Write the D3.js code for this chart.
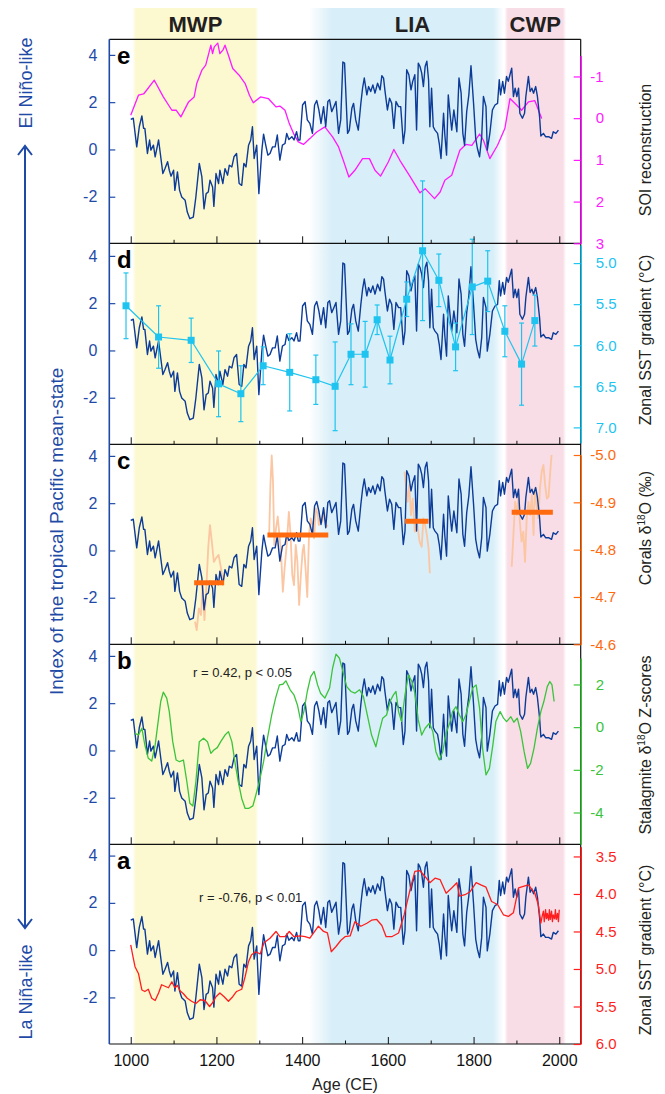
<!DOCTYPE html>
<meta charset="utf-8">
<style>
body { margin: 0; background: #fff; }
</style>
<svg width=665 height=1094></svg>
<script src="https://d3js.org/d3.v7.min.js"></script>
<script>

// ---- data ----
const bandNames = ["MWP", "LIA", "CWP"];
const bandStart = [1012, 1470, 1880];
const bandEnd = [1290, 1845, 2008];
const bandFadeIn = [8, 55, 8];
const bandFadeOut = [8, 25, 8];

// index of the tropical Pacific mean-state (same curve in every panel)
const indexYears = [1000,1006,1014,1020,1026,1030,1033,1039,1044,1047,1053,1057,1065,1070,1075,1080,1086,1090,1094,1100,
  1103,1109,1114,1119,1127,1132,1138,1146,1152,1160,1166,1171,1176,1181,1185,1191,1194,1199,1205,1208,
  1215,1220,1226,1230,1236,1241,1247,1253,1259,1264,1269,1275,1280,1284,1288,1294,1299,1306,1310,1315,
  1320,1325,1331,1337,1342,1348,1354,1360,1364,1369,1376,1381,1387,1391,1395,1401,1407,1412,1418,1424,
  1429,1434,1439,1444,1450,1455,1460,1464,1469,1474,1479,1485,1490,1495,1499,1506,1510,1516,1520,1525,
  1531,1537,1541,1545,1551,1555,1560,1565,1570,1576,1582,1586,1590,1593,1599,1604,1609,1614,1619,1625,
  1630,1636,1640,1644,1649,1654,1658,1663,1667,1671,1675,1679,1683,1687,1691,1695,1698,1702,1706,1710,
  1716,1720,1724,1730,1733,1737,1741,1745,1749,1754,1761,1766,1771,1775,1779,1784,1789,1794,1800,1805,
  1809,1814,1819,1823,1829,1832,1838,1844,1850,1856,1860,1863,1868,1872,1877,1881,1885,1889,1893,1897,
  1901,1905,1908,1914,1919,1922,1928,1932,1936,1940,1945,1949,1954,1957,1963,1968,1975,1982,1986,1992,1998];
const indexValues = [1.27,1.32,0.11,0.96,1.42,0.89,0.89,-0.17,0.40,-0.03,0.18,-0.31,0.40,-0.31,-1.02,-0.81,-0.52,-0.88,-1.13,-0.88,
  -1.73,-0.95,-1.73,-2.01,-2.15,-2.65,-2.93,-2.86,-2.01,-0.59,-1.16,-2.51,-1.87,-1.80,-1.30,-1.59,-2.41,-1.02,-1.44,-0.88,
  -1.44,-0.81,-1.09,-0.67,-0.74,-0.31,-0.17,-1.44,-1.52,-0.59,-0.74,0.18,0.40,0.96,-0.38,0.18,-1.87,-0.03,0.65,0.18,
  -0.24,-0.17,0.11,0.11,0.61,-0.45,0.18,0.25,0.68,0.42,0.54,0.40,0.75,0.40,0.40,1.88,2.03,1.25,1.10,0.68,
  1.88,2.07,1.67,1.10,1.81,0.96,2.03,2.10,1.60,1.81,2.03,0.68,1.25,3.70,3.65,0.68,0.82,1.74,1.95,1.25,
  0.82,1.95,2.59,3.02,2.31,2.66,2.45,2.73,2.38,2.80,2.52,3.12,3.02,2.52,1.67,2.17,1.95,0.89,2.03,1.81,
  1.81,0.25,0.82,3.37,3.16,2.52,2.88,3.16,0.82,3.65,3.51,3.23,2.66,3.51,3.73,2.95,0.96,2.59,0.96,0.82,
  0.68,0.25,-0.38,1.53,0.61,-0.24,2.31,1.53,0.82,1.67,0.75,3.02,2.38,0.68,0.18,1.60,2.31,3.54,1.95,0.47,
  0.04,-0.31,0.54,2.24,1.81,-0.03,0.68,1.67,1.88,1.95,2.95,2.31,2.88,2.38,3.09,2.88,3.16,3.44,2.24,2.59,
  2.24,2.59,1.53,1.32,1.53,2.24,3.09,2.45,2.59,2.38,2.66,2.24,1.39,0.57,0.68,0.54,0.54,0.47,0.75,0.68,0.82];

// (e) SOI reconstruction
const soiYears = [1000,1018,1030,1037,1055,1076,1096,1106,1117,1135,1148,1154,1166,1175,1183,1187,1191,1195,1203,
  1208,1215,1220,1228,1238,1253,1267,1277,1286,1303,1321,1339,1348,1360,1370,1380,1391,1403,1418,1434,
  1453,1471,1485,1496,1509,1523,1541,1557,1570,1583,1601,1614,1628,1652,1675,1687,1709,1722,1733,1749,
  1768,1782,1796,1814,1823,1838,1856,1873,1885,1901,1912,1928,1943,1959];
const soiValues = [-0.07,-0.55,-0.58,-0.67,-0.91,-0.51,-0.19,-0.19,-0.03,-0.39,-0.51,-0.83,-1.15,-1.27,-1.59,-1.75,-1.55,-1.71,-1.80,
  -1.55,-1.63,-1.75,-1.51,-1.19,-1.03,-0.83,-0.55,-0.37,-0.51,-0.47,-0.27,-0.29,-0.19,0.13,0.37,0.57,0.63,0.49,0.33,
  0.21,0.45,0.69,1.01,1.41,1.25,0.97,0.97,1.25,1.39,1.05,0.75,1.01,1.40,1.79,1.69,1.93,1.77,1.49,1.37,
  0.77,0.63,0.65,0.38,0.53,0.97,0.65,0.25,-0.47,-0.31,-0.19,-0.39,-0.42,0.01];

// (d) zonal SST gradient with errors
const gradDYears = [989,1065,1141,1205,1257,1309,1371,1432,1477,1514,1547,1575,1605,1644,1681,1719,1758,1797,1833,1873,1912,1943];
const gradDValues = [5.52,5.90,5.94,6.47,6.59,6.25,6.33,6.42,6.50,6.11,6.11,5.69,6.18,5.44,4.85,5.21,6.02,5.29,5.22,5.83,6.23,5.70];
const gradDErrors = [0.40,0.38,0.27,0.40,0.34,0.23,0.47,0.30,0.54,0.37,0.40,0.18,0.29,0.21,0.85,0.32,0.29,0.58,0.37,0.31,0.50,0.31];

// (c) coral d18O records and their means
const coralYears = [
  [1150,1154,1159,1164,1168,1172,1176,1181,1185,1190,1194,1199,1205,1210,1215,1218],
  [1323,1326,1329,1332,1335,1339,1343,1347,1351,1355,1359,1364,1369,1373,1377,1381,1385,1389,1393,1397,
   1401,1404,1408,1412,1416,1420,1424,1428,1432,1436,1439,1443,1447,1451,1456,1460],
  [1639,1642,1646,1650,1654,1658,1663,1669,1674,1679,1683,1687,1691,1695,1698],
  [1889,1893,1897,1901,1905,1908,1912,1916,1920,1924,1928,1932,1936,1940,1943,1947,1951,1955,1959,1963,
   1967,1971,1975,1979,1982]];
const coralValues = [
  [-4.648,-4.630,-4.676,-4.662,-4.725,-4.651,-4.711,-4.806,-4.852,-4.810,-4.774,-4.782,-4.789,-4.764,-4.732,-4.746],
  [-4.831,-4.937,-4.999,-4.944,-4.810,-4.845,-4.870,-4.831,-4.789,-4.711,-4.760,-4.810,-4.880,-4.831,-4.746,-4.725,
   -4.810,-4.774,-4.683,-4.746,-4.796,-4.810,-4.760,-4.700,-4.831,-4.866,-4.852,-4.824,-4.887,-4.877,-4.852,-4.866,
   -4.859,-4.884,-4.848,-4.852],
  [-4.965,-4.937,-4.901,-4.937,-4.873,-4.908,-4.838,-4.852,-4.817,-4.806,-4.866,-4.852,-4.831,-4.803,-4.750],
  [-4.764,-4.831,-4.901,-4.873,-4.915,-4.859,-4.817,-4.838,-4.774,-4.866,-4.901,-4.873,-4.915,-4.831,-4.930,-4.894,
   -4.866,-4.930,-4.965,-4.979,-4.937,-4.908,-4.912,-4.965,-5.000]];
const coralMeanStart = [1148, 1319, 1640, 1889];
const coralMeanEnd = [1218, 1461, 1695, 1985];
const coralMeanValue = [-4.730, -4.831, -4.860, -4.879];

// (b) stalagmite d18O z-scores
const stalYears = [1010,1018,1026,1033,1041,1049,1057,1065,1070,1076,1084,1090,1098,1106,1114,1123,1131,1138,1145,1152,
  1160,1170,1179,1187,1194,1202,1210,1220,1228,1236,1243,1251,1259,1267,1275,1285,1292,1300,1310,1319,
  1329,1338,1347,1355,1362,1372,1381,1389,1397,1404,1412,1420,1428,1436,1443,1453,1464,1471,1479,1487,
  1495,1504,1514,1523,1534,1543,1552,1562,1572,1580,1588,1597,1605,1613,1619,1625,1632,1640,1648,1656,
  1663,1671,1679,1687,1697,1705,1712,1720,1728,1736,1744,1751,1759,1767,1775,1782,1790,1798,1806,1814,
  1821,1829,1837,1845,1852,1862,1870,1877,1887,1894,1902,1910,1918,1926,1933,1941,1949,1957,1964,1972,
  1978,1983,1988];
const stalValues = [-0.29,-0.37,-0.05,-0.84,-1.46,-1.59,-0.84,0.42,1.20,1.64,1.36,0.73,-0.68,-1.54,-1.62,-1.54,-2.56,-3.57,-3.70,-2.56,
  -0.68,-0.52,-0.68,-1.23,-1.07,-0.96,-0.68,-0.37,-0.21,-0.68,-1.62,-2.56,-3.34,-3.81,-3.81,-3.69,-3.18,-2.56,-1.62,-0.52,
  0.57,1.36,1.98,2.01,2.17,1.75,1.51,1.04,0.26,0.73,1.67,2.37,2.61,1.98,1.59,1.36,1.83,2.76,3.42,3.23,
  2.61,1.90,1.67,1.59,1.75,1.43,0.57,-0.37,-0.92,-0.21,0.42,0.57,1.20,1.51,1.67,0.73,0.26,1.51,2.45,2.14,
  1.59,0.34,-0.37,-0.05,0.18,-0.21,-1.15,-1.54,-1.15,-0.29,0.18,0.73,0.96,0.57,0.26,0.57,1.20,1.83,1.98,0.89,
  -0.99,-2.24,-1.93,-0.84,0.26,0.73,0.42,0.26,0.49,0.23,0.42,-0.21,-1.15,-1.93,-1.70,-0.99,-0.05,0.73,1.20,1.90,
  2.14,1.98,1.20];

// (a) zonal SST gradient
const gradAYears = [1000,1005,1010,1018,1026,1033,1041,1049,1057,1065,1072,1080,1088,1096,1103,1109,1115,1123,1132,1142,
  1152,1162,1173,1184,1191,1199,1208,1218,1228,1238,1247,1259,1267,1275,1282,1292,1302,1311,1325,1339,
  1348,1360,1370,1381,1395,1407,1418,1428,1438,1450,1459,1468,1479,1490,1500,1512,1523,1537,1551,1562,
  1574,1586,1596,1609,1625,1638,1652,1663,1675,1687,1698,1710,1722,1736,1749,1761,1767,1780,1792,1806,
  1817,1829,1842,1856,1870,1881,1893,1905,1916,1928,1936,1943,1951,1957,1960,1963,1965,1968,1970,1972,
  1975,1977,1979,1982,1984,1986,1989,1991,1993,1996,1998,2000];
const gradAValues = [4.68,4.83,4.97,5.06,5.28,5.30,5.27,5.39,5.42,5.32,5.21,5.23,5.25,5.17,5.25,5.22,5.29,5.33,5.39,5.43,
  5.46,5.41,5.42,5.50,5.45,5.37,5.32,5.37,5.43,5.37,5.30,5.27,5.10,4.90,4.81,4.77,4.80,4.65,4.59,4.50,
  4.57,4.57,4.50,4.57,4.56,4.57,4.59,4.51,4.43,4.50,4.52,4.77,4.70,4.62,4.57,4.56,4.37,4.43,4.39,4.35,
  4.34,4.42,4.57,4.57,4.52,4.28,3.94,3.70,3.69,3.77,3.85,3.79,3.81,3.99,3.92,3.85,4.03,4.01,3.97,3.85,
  3.88,3.91,4.10,4.14,4.28,4.30,4.25,3.92,3.90,3.88,3.94,3.99,4.14,4.39,4.30,4.23,4.37,4.21,4.33,4.26,
  4.35,4.21,4.34,4.23,4.37,4.28,4.33,4.21,4.34,4.26,4.37,4.21];

const indexTicks = [-2, 0, 2, 4];
const soiTicks = [-1, 0, 1, 2, 3];
const gradDTicks = [5.0, 5.5, 6.0, 6.5, 7.0];
const coralTicks = [-5.0, -4.9, -4.8, -4.7, -4.6];
const stalTicks = [2, 0, -2, -4];
const gradATicks = [3.5, 4.0, 4.5, 5.0, 5.5, 6.0];
const majorYears = [1000, 1200, 1400, 1600, 1800, 2000];
const minorYears = [1100, 1300, 1500, 1700, 1900];
const panelLetters = ["e", "d", "c", "b", "a"];

// ---- layout & style ----
const font = "'Liberation Sans', Arial, Helvetica, sans-serif";
const left = 109.3, right = 580.7;
const panelTop = [39.3, 243.3, 444.3, 644.3, 844.3];
const panelBottom = [243.3, 444.3, 644.3, 844.3, 1044];
const bandColors = ["#fcf8cf", "#d8eef8", "#f8dce6"];
const indexColor = "#0c3b98", axisBlue = "#1f4ba7";
const soiColor = "#ff1aff", gradDColor = "#1ec4ef", coralLight = "#fbc6a2", coralDark = "#ff6a0f";
const stalColor = "#3bc43b", gradAColor = "#ff1e1e";

const svg = d3.select("svg");

const x = d3.scaleLinear().domain([950, 2050]).range([left, right]);
const yIndex = panelBottom.map(b => d3.scaleLinear().domain([-3.97, 4.49]).range([b, b - 200]));
const ySoi = d3.scaleLinear().domain([-1.5, 3]).range([55.6, 243.3]);
const yGradD = d3.scaleLinear().domain([4.78, 7.19]).range([245, 443]);
const yCoral = d3.scaleLinear().domain([-5.0, -4.6]).range([455, 644.3]);
const yStal = d3.scaleLinear().domain([-5.49, 3.24]).range([844.3, 658]);
const yGradA = d3.scaleLinear().domain([3.37, 6.0]).range([846.7, 1044]);

const hyphen = f => d => { const s = f(d); return s.replace("\u2212", "-"); };

// ---- shaded periods ----
const defs = svg.append("defs");
bandNames.forEach((name, i) => {
  const x0 = x(bandStart[i] - bandFadeIn[i]), x1 = x(bandEnd[i] + bandFadeOut[i]);
  const grad = defs.append("linearGradient").attr("id", "band" + i)
    .attr("gradientUnits", "userSpaceOnUse")
    .attr("x1", x0).attr("x2", x1).attr("y1", 0).attr("y2", 0);
  const f0 = (x(bandStart[i]) - x0) / (x1 - x0), f1 = (x(bandEnd[i]) - x0) / (x1 - x0);
  [[0, 0], [f0, 1], [f1, 1], [1, 0]].forEach(s => {
    grad.append("stop").attr("offset", s[0]).attr("stop-color", bandColors[i]).attr("stop-opacity", s[1]);
  });
  svg.append("rect")
    .attr("x", x0).attr("y", 8)
    .attr("width", x1 - x0).attr("height", 1044 - 8)
    .attr("fill", "url(#band" + i + ")");
  svg.append("text")
    .attr("x", x((bandStart[i] + bandEnd[i]) / 2)).attr("y", 32)
    .attr("text-anchor", "middle")
    .attr("font-family", font).attr("font-size", 22).attr("font-weight", "bold")
    .attr("fill", "#231f20")
    .text(name);
});

function drawLine(years, values, y, color, width) {
  const line = d3.line().x((d, i) => x(years[i])).y(d => y(d));
  svg.append("path")
    .datum(values)
    .attr("d", line)
    .attr("fill", "none")
    .attr("stroke", color)
    .attr("stroke-width", width)
    .attr("stroke-linejoin", "round");
}

// ---- secondary records drawn under the index ----
drawLine(soiYears, soiValues, ySoi, soiColor, 1.3);
coralYears.forEach((yrs, i) => drawLine(yrs, coralValues[i], yCoral, coralLight, 1.8));

// ---- index curve in each panel ----
yIndex.forEach(y => drawLine(indexYears, indexValues, y, indexColor, 1.4));

// ---- secondary records drawn on top ----
coralMeanStart.forEach((s, i) => {
  svg.append("line")
    .attr("x1", x(s)).attr("x2", x(coralMeanEnd[i]))
    .attr("y1", yCoral(coralMeanValue[i])).attr("y2", yCoral(coralMeanValue[i]))
    .attr("stroke", coralDark).attr("stroke-width", 5);
});
drawLine(stalYears, stalValues, yStal, stalColor, 1.3);
drawLine(gradAYears, gradAValues, yGradA, gradAColor, 1.3);

// (d) error bars, line and squares
const gd = svg.append("g");
gradDYears.forEach((yr, i) => {
  const cx = x(yr), yt = yGradD(gradDValues[i] - gradDErrors[i]), yb = yGradD(gradDValues[i] + gradDErrors[i]);
  gd.append("line").attr("x1", cx).attr("x2", cx).attr("y1", yt).attr("y2", yb)
    .attr("stroke", gradDColor).attr("stroke-width", 1.2);
  [yt, yb].forEach(yy => gd.append("line").attr("x1", cx - 2.5).attr("x2", cx + 2.5).attr("y1", yy).attr("y2", yy)
    .attr("stroke", gradDColor).attr("stroke-width", 1.2));
});
drawLine(gradDYears, gradDValues, yGradD, gradDColor, 1.2);
svg.selectAll(".sq").data(gradDValues).enter().append("rect")
  .attr("x", (d, i) => x(gradDYears[i]) - 3.5).attr("y", d => yGradD(d) - 3.5)
  .attr("width", 7).attr("height", 7).attr("fill", gradDColor);

// ---- frames and axes ----
const frame = svg.append("g").attr("stroke", "#111").attr("stroke-width", 1.2);
frame.append("line").attr("x1", left).attr("x2", right).attr("y1", panelTop[0]).attr("y2", panelTop[0]);
panelBottom.forEach(b => frame.append("line").attr("x1", left).attr("x2", right).attr("y1", b).attr("y2", b));
frame.append("line").attr("x1", right).attr("x2", right).attr("y1", panelTop[0]).attr("y2", 1044);

panelBottom.forEach((b, i) => {
  const last = i === panelBottom.length - 1;
  const maj = svg.append("g").attr("transform", "translate(0," + b + ")")
    .call(d3.axisBottom(x).tickValues(majorYears).tickSizeInner(-7).tickSizeOuter(0).tickPadding(11)
      .tickFormat(last ? d3.format("d") : () => ""));
  maj.attr("font-family", font).attr("font-size", 16);
  maj.select(".domain").remove();
  maj.selectAll(".tick line").attr("stroke", "#111");
  maj.selectAll(".tick text").attr("fill", "#111");
  const min = svg.append("g").attr("transform", "translate(0," + b + ")")
    .call(d3.axisBottom(x).tickValues(minorYears).tickSizeInner(-3.5).tickSizeOuter(0).tickFormat(() => ""));
  min.select(".domain").remove();
  min.selectAll(".tick line").attr("stroke", "#111");

  const la = svg.append("g").attr("transform", "translate(" + left + ",0)")
    .call(d3.axisLeft(yIndex[i]).tickValues(indexTicks).tickSizeInner(-6).tickSizeOuter(0).tickPadding(12)
      .tickFormat(hyphen(d3.format("d"))));
  la.attr("font-family", font).attr("font-size", 16);
  la.select(".domain").remove();
  la.selectAll(".tick line").attr("stroke", axisBlue).attr("stroke-width", 1.2);
  la.selectAll(".tick text").attr("fill", axisBlue);

  svg.append("text")
    .attr("x", 117).attr("y", panelTop[i] + 25)
    .attr("font-family", font).attr("font-size", 24).attr("font-weight", "bold")
    .attr("fill", "#000")
    .text(panelLetters[i]);
});

svg.append("line")
  .attr("x1", left).attr("x2", left).attr("y1", panelTop[0]).attr("y2", 1044)
  .attr("stroke", axisBlue).attr("stroke-width", 1.6);

svg.append("text")
  .attr("x", x(1500)).attr("y", 1090)
  .attr("text-anchor", "middle")
  .attr("font-family", font).attr("font-size", 16).attr("fill", "#222")
  .text("Age (CE)");

// right axes
const rightAxes = [
  { scale: ySoi, ticks: soiTicks, fmt: d3.format("d"), color: soiColor, cy: 150,
    title: [["SOI reconstruction"]] },
  { scale: yGradD, ticks: gradDTicks, fmt: d3.format(".1f"), color: gradDColor, cy: 340,
    title: [["Zonal SST gradient (\u00B0C)"]] },
  { scale: yCoral, ticks: coralTicks, fmt: d3.format(".1f"), color: coralDark, cy: 528,
    title: [["Corals  \u03B4"], ["18", "sup"], ["O (\u2030)"]] },
  { scale: yStal, ticks: stalTicks, fmt: d3.format("d"), color: stalColor, cy: 745,
    title: [["Stalagmite  \u03B4"], ["18", "sup"], ["O Z-scores"]] },
  { scale: yGradA, ticks: gradATicks, fmt: d3.format(".1f"), color: gradAColor, cy: 950,
    title: [["Zonal SST gradient (\u00B0C)"]] }
];

rightAxes.forEach(r => {
  const ra = svg.append("g").attr("transform", "translate(" + right + ",0)")
    .call(d3.axisRight(r.scale).tickValues(r.ticks).tickSizeInner(-7).tickSizeOuter(0).tickPadding(15)
      .tickFormat(hyphen(r.fmt)));
  ra.attr("font-family", font).attr("font-size", 15);
  ra.select(".domain").attr("stroke", r.color).attr("stroke-width", 1.6);
  ra.selectAll(".tick line").attr("stroke", r.color).attr("stroke-width", 1.2);
  ra.selectAll(".tick text").attr("fill", r.color).attr("x", d => d < 0 ? 9.5 : 15);

  const t = svg.append("text")
    .attr("transform", "translate(651," + r.cy + ") rotate(-90)")
    .attr("text-anchor", "middle")
    .attr("font-family", font).attr("font-size", 16).attr("fill", "#231f20");
  r.title.forEach(part => {
    const sp = t.append("tspan").text(part[0]);
    if (part[1] === "sup") sp.attr("font-size", 10).attr("dy", -6);
    else if (t.selectAll("tspan").size() > 1) sp.attr("dy", 6);
  });
});

// left-hand labels and arrow
svg.append("text")
  .attr("transform", "translate(31.5,83) rotate(-90)")
  .attr("text-anchor", "middle")
  .attr("font-family", font).attr("font-size", 18).attr("fill", axisBlue)
  .text("El Ni\u00F1o-like");
svg.append("text")
  .attr("transform", "translate(31.5,992) rotate(-90)")
  .attr("text-anchor", "middle")
  .attr("font-family", font).attr("font-size", 18).attr("fill", axisBlue)
  .text("La Ni\u00F1a-like");
svg.append("text")
  .attr("transform", "translate(63,695) rotate(-90)")
  .attr("text-anchor", "start")
  .attr("font-family", font).attr("font-size", 19).attr("fill", axisBlue)
  .text("Index of the tropical Pacific mean-state");

const arrow = svg.append("g").attr("stroke", axisBlue).attr("stroke-width", 2).attr("fill", "none");
arrow.append("line").attr("x1", 25).attr("x2", 25).attr("y1", 146).attr("y2", 928);
arrow.append("path").attr("d", "M18,155L25,146L32,155");
arrow.append("path").attr("d", "M18,919L25,928L32,919");

// correlation notes
svg.append("text")
  .attr("x", 193).attr("y", 677)
  .attr("font-family", font).attr("font-size", 13).attr("fill", "#222")
  .text("r = 0.42, p < 0.05");
svg.append("text")
  .attr("x", 199).attr("y", 902)
  .attr("font-family", font).attr("font-size", 13).attr("fill", "#222")
  .text("r = -0.76, p < 0.01");

</script>
